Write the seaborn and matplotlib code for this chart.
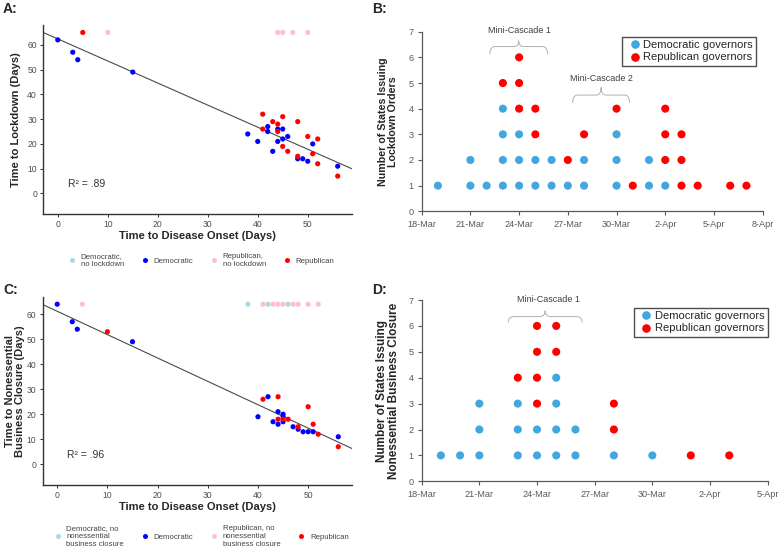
import matplotlib
matplotlib.use("Agg")
import numpy as np
import pandas as pd
import matplotlib.pyplot as plt
import matplotlib.dates as mdates
from matplotlib.lines import Line2D
from matplotlib.path import Path
from matplotlib.patches import PathPatch
import seaborn as sns

# ---------------- data ----------------
# Panel A: time to disease onset vs time to lockdown (days)
a_dem_x = [0, 3, 4, 15, 38, 40, 42, 42, 43, 44, 44, 45, 45, 46, 48, 49, 50, 51, 56]
a_dem_y = [62, 57, 54, 49, 24, 21, 27, 25, 17, 26, 21, 26, 22, 23, 14, 14, 13, 20, 11]
a_rep_x = [5, 41, 41, 43, 44, 44, 45, 45, 46, 48, 48, 50, 51, 52, 52, 56]
a_rep_y = [65, 32, 26, 29, 28, 25, 31, 19, 17, 29, 15, 23, 16, 22, 12, 7]
a_rep_nolock_x = [10, 44, 45, 47, 50]
a_top_y = 65
a_r2 = "R\u00b2 = .89"

# Panel C: time to disease onset vs time to nonessential business closure (days)
c_dem_x = [0, 3, 4, 15, 40, 42, 43, 44, 44, 45, 45, 45, 47, 48, 49, 50, 51, 56]
c_dem_y = [64, 57, 54, 49, 19, 27, 17, 21, 16, 20, 19, 17, 15, 14, 13, 13, 13, 11]
c_rep_x = [10, 41, 44, 44, 45, 46, 48, 50, 51, 52, 56]
c_rep_y = [53, 26, 27, 18, 18, 18, 15, 23, 16, 12, 7]
c_dem_noclose_x = [38, 42, 46]
c_rep_noclose_x = [5, 41, 43, 44, 45, 47, 48, 50, 52]
c_top_y = 64
c_r2 = "R\u00b2 = .96"

# Panel B: lockdown orders per day (Democratic stacked below Republican)
b_dates = ["19-Mar", "21-Mar", "22-Mar", "23-Mar", "24-Mar", "25-Mar", "26-Mar",
           "27-Mar", "28-Mar", "30-Mar", "31-Mar", "1-Apr", "2-Apr", "3-Apr",
           "4-Apr", "6-Apr", "7-Apr"]
b_dem = [1, 2, 1, 4, 3, 2, 2, 1, 2, 3, 0, 2, 1, 0, 0, 0, 0]
b_rep = [0, 0, 0, 1, 3, 2, 0, 1, 1, 1, 1, 0, 3, 3, 1, 1, 1]

# Panel D: nonessential business closures per day
d_dates = ["19-Mar", "20-Mar", "21-Mar", "23-Mar", "24-Mar", "25-Mar", "26-Mar",
           "28-Mar", "30-Mar", "1-Apr", "3-Apr"]
d_dem = [1, 1, 3, 3, 2, 4, 2, 1, 1, 0, 0]
d_rep = [0, 0, 0, 1, 4, 2, 0, 2, 0, 1, 1]

# ---------------- style ----------------
sns.set_style("ticks")
plt.rcParams["font.family"] = ["Liberation Sans", "DejaVu Sans"]

SCATTER_PAL = {
    "Democratic, no lockdown": "lightblue",
    "Democratic": "blue",
    "Republican, no lockdown": "pink",
    "Republican": "red",
}
DOT_PAL = {"Democratic governors": "#41A8DF", "Republican governors": "#FF0000"}


def to_dates(labels):
    return pd.to_datetime([s + "-2020" for s in labels], format="%d-%b-%Y")


def stack_points(dates, dem, rep):
    rows = []
    for d, nd, nr in zip(to_dates(dates), dem, rep):
        for k in range(nd):
            rows.append((d, k + 1, "Democratic governors"))
        for k in range(nr):
            rows.append((d, nd + k + 1, "Republican governors"))
    return pd.DataFrame(rows, columns=["date", "count", "party"])


def scatter_panel(ax, dem_x, dem_y, rep_x, rep_y, extra, top_y, r2,
                  ylabel, ylabel_x, ylim_top):
    df = pd.DataFrame({
        "x": dem_x + rep_x,
        "y": dem_y + rep_y,
        "group": ["Democratic"] * len(dem_x) + ["Republican"] * len(rep_x),
    })
    top = pd.DataFrame(
        [(x, top_y, g) for g, xs in extra for x in xs],
        columns=["x", "y", "group"])
    ax.set_xlim(-2.9, 58.8)
    ax.set_ylim(-8.3, ylim_top)
    sns.regplot(data=df, x="x", y="y", scatter=False, ci=None, truncate=False,
                line_kws={"color": "#4a4a4a", "lw": 0.8}, ax=ax)
    sns.scatterplot(data=pd.concat([top, df]), x="x", y="y", hue="group",
                    palette=SCATTER_PAL, s=14, edgecolor="none", legend=False,
                    ax=ax, zorder=3)
    ax.set_xlim(-2.9, 58.8)
    ax.set_ylim(-8.3, ylim_top)
    ax.set_xticks(range(0, 51, 10))
    ax.set_yticks(range(0, 61, 10))
    ax.text(5.7, 3.7, r2, fontsize=7.5, color="#333333", ha="center", va="center")
    ax.set_xlabel("Time to Disease Onset (Days)", fontsize=8, fontweight="bold")
    ax.set_ylabel(ylabel, fontsize=8, fontweight="bold", linespacing=1.0)
    ax.xaxis.set_label_coords(0.5, -0.09)
    ax.yaxis.set_label_coords(ylabel_x, 0.5)
    for s in ["top", "right"]:
        ax.spines[s].set_visible(False)
    for s in ["left", "bottom"]:
        ax.spines[s].set_color("#333333")
        ax.spines[s].set_linewidth(1.0)
    ax.tick_params(labelsize=6.2, labelcolor="#4D4D4D", color="#333333",
                   length=2.5, width=0.7, pad=2)


def brace(ax, d0, d1, y, tip, drop, text, text_x, text_y):
    base = mdates.date2num(pd.Timestamp("2020-03-18"))
    x0, x1 = base + d0, base + d1
    xc = (x0 + x1) / 2
    w = 0.3
    verts = [(x0, y - drop), (x0, y), (x0 + w, y), (xc - w, y), (xc, y),
             (xc, y + tip), (xc, y), (xc + w, y), (x1 - w, y), (x1, y),
             (x1, y - drop)]
    codes = [Path.MOVETO, Path.CURVE3, Path.CURVE3, Path.LINETO, Path.CURVE3,
             Path.CURVE3, Path.CURVE3, Path.CURVE3, Path.LINETO, Path.CURVE3,
             Path.CURVE3]
    ax.add_patch(PathPatch(Path(verts, codes), fill=False, edgecolor="#B0B0B0",
                           lw=0.7, clip_on=False))
    ax.text(base + text_x, text_y, text, fontsize=6.5, color="#404040",
            ha="center", va="center", clip_on=False)


def dot_panel(ax, dates, dem, rep, end_label, ylabel, ylabel_x, ylabel_size,
              legend_anchor):
    df = stack_points(dates, dem, rep)
    sns.scatterplot(data=df, x="date", y="count", hue="party", palette=DOT_PAL,
                    s=34, edgecolor="none", ax=ax, clip_on=False, zorder=3)
    ticks = pd.date_range("2020-03-18", to_dates([end_label])[0], freq="3D")
    ax.set_xlim(ticks[0], ticks[-1])
    ax.set_xticks(ticks)
    ax.set_xticklabels([f"{t.day}-{t.strftime('%b')}" for t in ticks])
    ax.set_ylim(0, 7)
    ax.set_yticks(range(0, 8))
    ax.set_xlabel("")
    ax.set_ylabel(ylabel, fontsize=ylabel_size, fontweight="bold", linespacing=1.0)
    ax.yaxis.set_label_coords(ylabel_x, 0.5)
    for s in ["top", "right"]:
        ax.spines[s].set_visible(False)
    for s in ["left", "bottom"]:
        ax.spines[s].set_color("#595959")
        ax.spines[s].set_linewidth(0.9)
    ax.tick_params(labelsize=6.6, labelcolor="#595959", color="#595959",
                   length=3, width=0.8, pad=3)
    handles = [Line2D([], [], marker="o", ls="", markersize=6.2,
                      markerfacecolor=c, markeredgecolor="none")
               for c in DOT_PAL.values()]
    leg = ax.legend(handles, list(DOT_PAL.keys()), loc="upper right",
                    bbox_to_anchor=legend_anchor, borderaxespad=0,
                    fontsize=8, frameon=True, fancybox=False, handlelength=1.7,
                    handletextpad=-0.1, borderpad=0.3, labelspacing=0.22)
    leg.get_frame().set_edgecolor("#202020")
    leg.get_frame().set_linewidth(1.0)


def bottom_legend(fig, labels, x, y):
    handles = [Line2D([], [], marker="o", ls="", markersize=3.6,
                      markerfacecolor=c, markeredgecolor="none")
               for c in SCATTER_PAL.values()]
    fig.legend(handles, labels, loc="center", bbox_to_anchor=(x, y), ncol=4,
               frameon=False, fontsize=5.6, handlelength=1.0,
               handletextpad=0.6, columnspacing=2.2, labelcolor="#444444")


# ---------------- figure ----------------
fig = plt.figure(figsize=(7.8, 5.51), dpi=100)
ax_a = fig.add_axes([0.0555, 0.6116, 0.3954, 0.343])
ax_b = fig.add_axes([0.5406, 0.6165, 0.4372, 0.326])
ax_c = fig.add_axes([0.0547, 0.1198, 0.3970, 0.3417])
ax_d = fig.add_axes([0.5406, 0.1265, 0.4436, 0.329])

scatter_panel(ax_a, a_dem_x, a_dem_y, a_rep_x, a_rep_y,
              [("Republican, no lockdown", a_rep_nolock_x)],
              a_top_y, a_r2, "Time to Lockdown (Days)", -0.072, 68)
scatter_panel(ax_c, c_dem_x, c_dem_y, c_rep_x, c_rep_y,
              [("Democratic, no lockdown", c_dem_noclose_x),
               ("Republican, no lockdown", c_rep_noclose_x)],
              c_top_y, c_r2, "Time to Nonessential\nBusiness Closure (Days)",
              -0.057, 67)

bottom_legend(fig, ["Democratic,\nno lockdown", "Democratic",
                    "Republican,\nno lockdown", "Republican"], 0.258, 0.528)
bottom_legend(fig, ["Democratic, no\nnonessential\nbusiness closure", "Democratic",
                    "Republican, no\nnonessential\nbusiness closure", "Republican"],
              0.258, 0.026)

dot_panel(ax_b, b_dates, b_dem, b_rep, "8-Apr",
          "Number of States Issuing\nLockdown Orders", -0.068, 7.7, (0.98, 0.972))
brace(ax_b, 4.2, 7.75, 6.42, 0.23, 0.3, "Mini-Cascade 1", 6.0, 7.04)
brace(ax_b, 9.3, 12.8, 4.53, 0.3, 0.3, "Mini-Cascade 2", 11.05, 5.16)

dot_panel(ax_d, d_dates, d_dem, d_rep, "5-Apr",
          "Number of States Issuing\nNonessential Business Closure", -0.063, 8.5,
          (1.0, 0.958))
brace(ax_d, 4.5, 8.35, 6.36, 0.23, 0.23, "Mini-Cascade 1", 6.6, 7.03)

for label, x, y in [("A:", 0.004, 0.997), ("B:", 0.477, 0.997),
                    ("C:", 0.004, 0.4864), ("D:", 0.477, 0.4864)]:
    fig.text(x, y, label, fontsize=10, fontweight="bold", va="top", ha="left")

fig.savefig("out.png", dpi=100)
